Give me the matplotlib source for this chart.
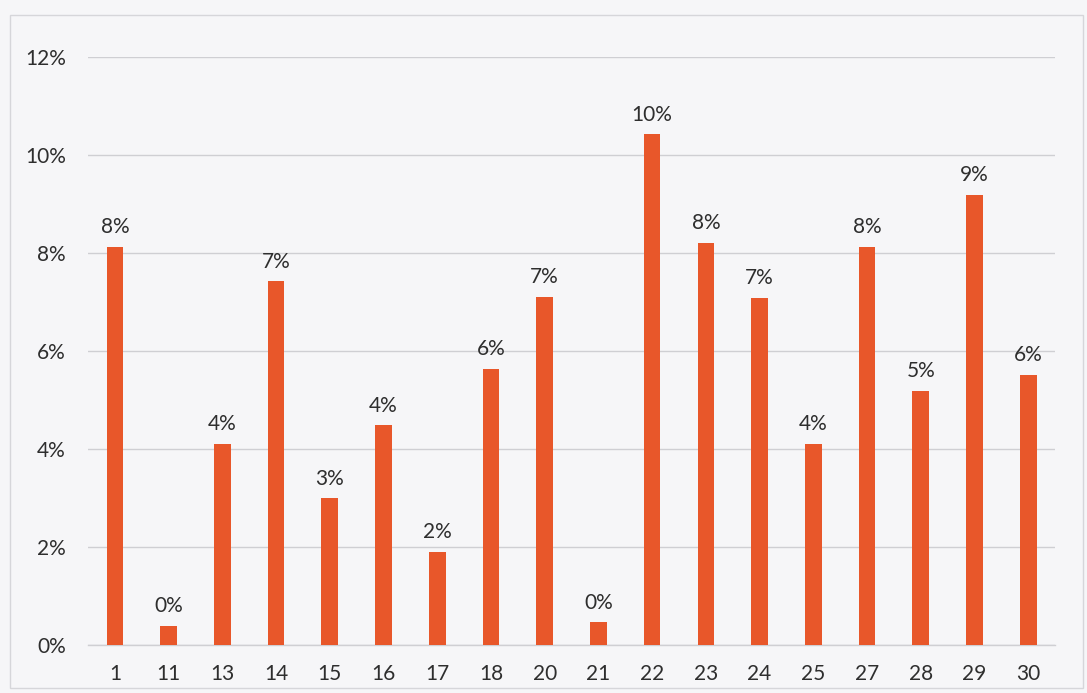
import matplotlib
matplotlib.use("Agg")
import matplotlib.pyplot as plt
from matplotlib.patches import Rectangle
from matplotlib.ticker import FuncFormatter, MultipleLocator

# Share of observations per day of month
days = ["1", "11", "13", "14", "15", "16", "17", "18", "20", "21",
        "22", "23", "24", "25", "27", "28", "29", "30"]
shares = [8.12, 0.39, 4.10, 7.42, 2.99, 4.48, 1.90, 5.63, 7.10, 0.46,
          10.42, 8.20, 7.08, 4.10, 8.13, 5.18, 9.18, 5.52]

bar_color = "#E8572A"
grid_color = "#cfcfd3"
text_color = "#2e2e2e"
bg_color = "#f6f6f8"
fsize = 15

plt.rcParams["font.family"] = ["Lato", "DejaVu Sans"]

fig = plt.figure(figsize=(10.87, 6.93), dpi=100, facecolor=bg_color)
ax = fig.add_axes([0.081, 0.0693, 0.8896, 0.8484])
ax.set_facecolor(bg_color)

x = range(len(days))
bars = ax.bar(x, shares, width=0.31, color=bar_color, zorder=3)

for xi, v in zip(x, shares):
    ax.annotate(f"{round(v):.0f}%", (xi, v), xytext=(0, 7),
                textcoords="offset points", ha="center", va="bottom",
                fontsize=fsize, color=text_color)

ax.set_xlim(-0.5, len(days) - 0.5)
ax.set_ylim(0, 12)
ax.yaxis.set_major_locator(MultipleLocator(2))
ax.yaxis.set_major_formatter(FuncFormatter(lambda v, _: f"{v:.0f}%"))
ax.set_xticks(list(x))
ax.set_xticklabels(days)

ax.grid(axis="y", color=grid_color, linewidth=1.0, zorder=0)
for side in ("top", "right", "left"):
    ax.spines[side].set_visible(False)
ax.spines["bottom"].set_color(grid_color)
ax.spines["bottom"].set_linewidth(1.0)

ax.tick_params(axis="y", length=0, pad=16, labelsize=fsize, labelcolor=text_color)
ax.tick_params(axis="x", length=0, pad=14, labelsize=fsize, labelcolor=text_color)

# chart frame
fig.patches.append(Rectangle((0.009, 0.007), 0.987, 0.972, transform=fig.transFigure,
                             fill=False, edgecolor="#d6d6da", linewidth=1.0))

fig.savefig("out.png", dpi=100, facecolor=bg_color)
